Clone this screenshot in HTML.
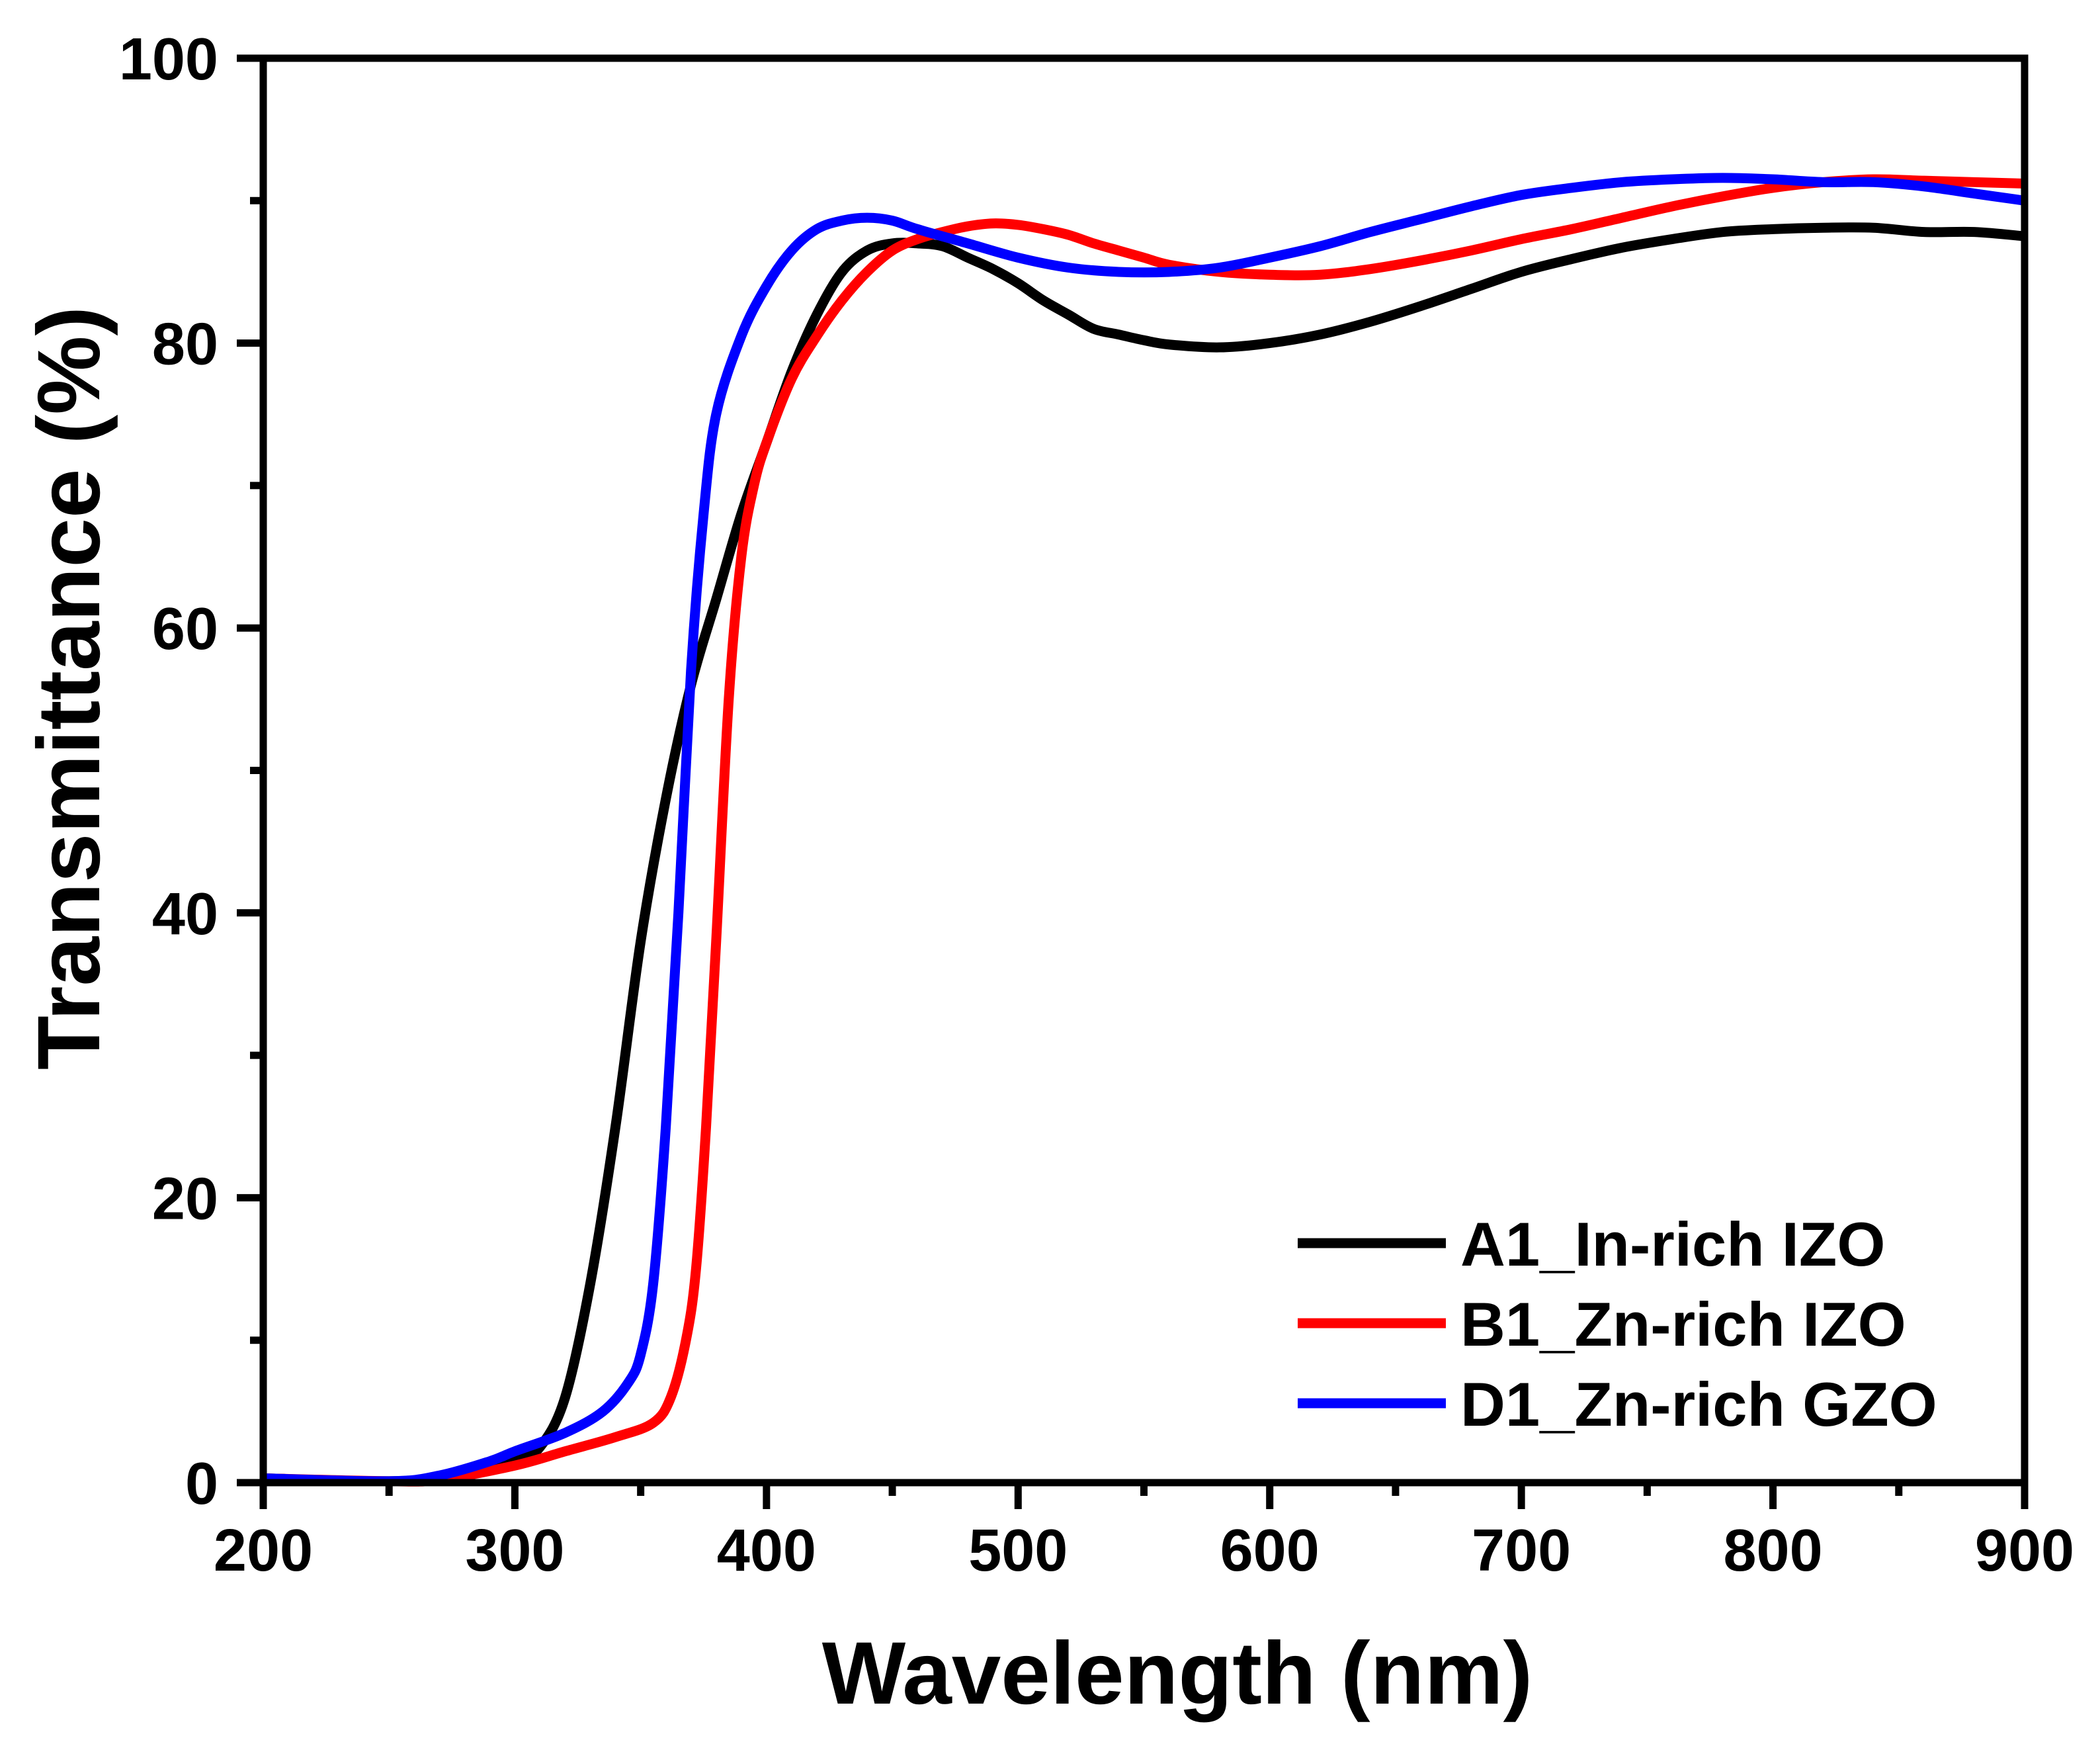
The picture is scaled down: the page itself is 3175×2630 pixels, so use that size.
<!DOCTYPE html>
<html><head><meta charset="utf-8"><style>
html,body{margin:0;padding:0;background:#fff;}
svg{display:block;font-family:"Liberation Sans",Arial,sans-serif;font-weight:bold;}
</style></head><body>
<svg id="chart" width="3175" height="2630" viewBox="0 0 3175 2630" xmlns="http://www.w3.org/2000/svg">
<g id="series"></g>
<g id="axes"></g>
<g id="legend"></g>
<text x="1780" y="2575" font-size="134" text-anchor="middle">Wavelength (nm)</text>
<text transform="translate(150,1040) rotate(-90)" font-size="134" text-anchor="middle">Transmittance (%)</text>
</svg>
<script>
const xTicks=[200,300,400,500,600,700,800,900];
const yTicks=[0,20,40,60,80,100];
const seriesNames=["A1_In-rich IZO","B1_Zn-rich IZO","D1_Zn-rich GZO"];
const seriesColors=["#000000","#ff0000","#0000ff"];
const wlA=[200,250,280,300,310,320,330,340,350,360,370,380,390,400,410,420,430,440,450,460,470,480,490,500,510,520,530,540,550,560,580,600,620,640,660,680,700,720,740,760,780,800,820,840,860,880,900];
const tA=[0.3,0.1,0.5,1.5,2.5,6,14,25,38,48,56,62,68,73,78,82,85,86.5,87,87,86.8,86,85.2,84.2,83,82,81,80.6,80.2,79.9,79.7,80,80.6,81.5,82.6,83.8,85,85.9,86.7,87.3,87.8,88,88.1,88.1,87.8,87.8,87.5];
const wlB=[200,250,270,300,320,340,355,362,368,372,376,380,385,390,395,400,410,420,430,440,450,460,470,480,490,500,510,520,530,540,550,560,580,600,620,640,660,680,700,720,740,760,780,800,820,840,860,880,900];
const tB=[0.3,0.1,0.2,1.2,2.2,3.2,4.2,6,10,15,25,38,55,65,70,73,77.5,80.5,83,85,86.5,87.3,87.8,88.2,88.4,88.3,88,87.6,87,86.5,86,85.5,85,84.8,84.8,85.2,85.8,86.5,87.3,88,88.8,89.6,90.3,90.9,91.3,91.5,91.4,91.3,91.2];
const wlD=[200,250,270,290,300,320,335,345,350,355,360,365,370,375,380,390,400,410,420,430,440,450,460,480,500,520,540,560,580,600,620,640,660,680,700,720,740,760,780,800,820,840,860,880,900];
const tD=[0.3,0.1,0.5,1.5,2.2,3.5,5,7,9,14,25,40,57,68,75,80.5,84,86.5,88,88.6,88.8,88.6,88,87,86,85.3,85,85,85.3,86,86.8,87.8,88.7,89.6,90.4,90.9,91.3,91.5,91.6,91.5,91.3,91.3,91,90.5,90];

const X0=398,X1=3061,Y0=2241,Y1=88;
const xs=v=>X0+(v-200)/700*(X1-X0);
const ys=v=>Y0-(v/100)*(Y0-Y1);
const NS="http://www.w3.org/2000/svg";
function mk(tag,parent){const e=document.createElementNS(NS,tag);parent.appendChild(e);return e;}

function pathD(wl,t){
  const p=wl.map((w,i)=>[xs(w),ys(t[i])]);
  let d="M"+p[0][0]+","+p[0][1];
  for(let i=0;i<p.length-1;i++){
    const p0=p[Math.max(0,i-1)],p1=p[i],p2=p[i+1],p3=p[Math.min(p.length-1,i+2)];
    const c1=[p1[0]+(p2[0]-p0[0])/6,p1[1]+(p2[1]-p0[1])/6];
    const c2=[p2[0]-(p3[0]-p1[0])/6,p2[1]-(p3[1]-p1[1])/6];
    d+=" C"+c1[0]+","+c1[1]+" "+c2[0]+","+c2[1]+" "+p2[0]+","+p2[1];
  }
  return d;
}
const sg=document.getElementById("series");
const data=[[wlA,tA],[wlB,tB],[wlD,tD]];
const lineNames=["series-a1-line","series-b1-line","series-d1-line"];
data.forEach((s,i)=>{
  const p=mk("path",sg);
  p.setAttribute("d",pathD(s[0],s[1]));
  p.setAttribute("fill","none");
  p.setAttribute("stroke",seriesColors[i]);
  p.setAttribute("stroke-width","15");
  p.setAttribute("stroke-linejoin","round");
  
  
});

const ag=document.getElementById("axes");
const frame=mk("rect",ag);
frame.setAttribute("x",X0);frame.setAttribute("y",Y1);
frame.setAttribute("width",X1-X0);frame.setAttribute("height",Y0-Y1);
frame.setAttribute("fill","none");frame.setAttribute("stroke","#000");frame.setAttribute("stroke-width","11");



for(let v=200;v<=900;v+=50){
  const major=(v%100===0);
  const l=mk("line",ag);
  l.setAttribute("x1",xs(v));l.setAttribute("x2",xs(v));
  l.setAttribute("y1",Y0);l.setAttribute("y2",Y0+(major?40:20));
  l.setAttribute("stroke","#000");l.setAttribute("stroke-width","11");
  
  
}
xTicks.forEach(v=>{
  const t=mk("text",ag);
  t.setAttribute("x",xs(v));t.setAttribute("y",2374);
  t.setAttribute("font-size","90");t.setAttribute("text-anchor","middle");
  t.textContent=v;
  
  
});
for(let v=0;v<=100;v+=10){
  const major=(v%20===0);
  const l=mk("line",ag);
  l.setAttribute("x1",X0-(major?40:20));l.setAttribute("x2",X0);
  l.setAttribute("y1",ys(v));l.setAttribute("y2",ys(v));
  l.setAttribute("stroke","#000");l.setAttribute("stroke-width","11");
  
  
}
yTicks.forEach(v=>{
  const t=mk("text",ag);
  t.setAttribute("x",330);t.setAttribute("y",ys(v)+32);
  t.setAttribute("font-size","90");t.setAttribute("text-anchor","end");
  t.textContent=v;
  
  
});

const lg=document.getElementById("legend");
const legY=[1879,2000,2121];
seriesNames.forEach((n,i)=>{
  const l=mk("line",lg);
  l.setAttribute("x1",1962);l.setAttribute("x2",2186);
  l.setAttribute("y1",legY[i]);l.setAttribute("y2",legY[i]);
  l.setAttribute("stroke",seriesColors[i]);l.setAttribute("stroke-width","15");
  
  
  const t=mk("text",lg);
  t.setAttribute("x",2208);t.setAttribute("y",legY[i]+34);
  t.setAttribute("font-size","94");
  t.textContent=n;
  
  
});
</script>
</body></html>
